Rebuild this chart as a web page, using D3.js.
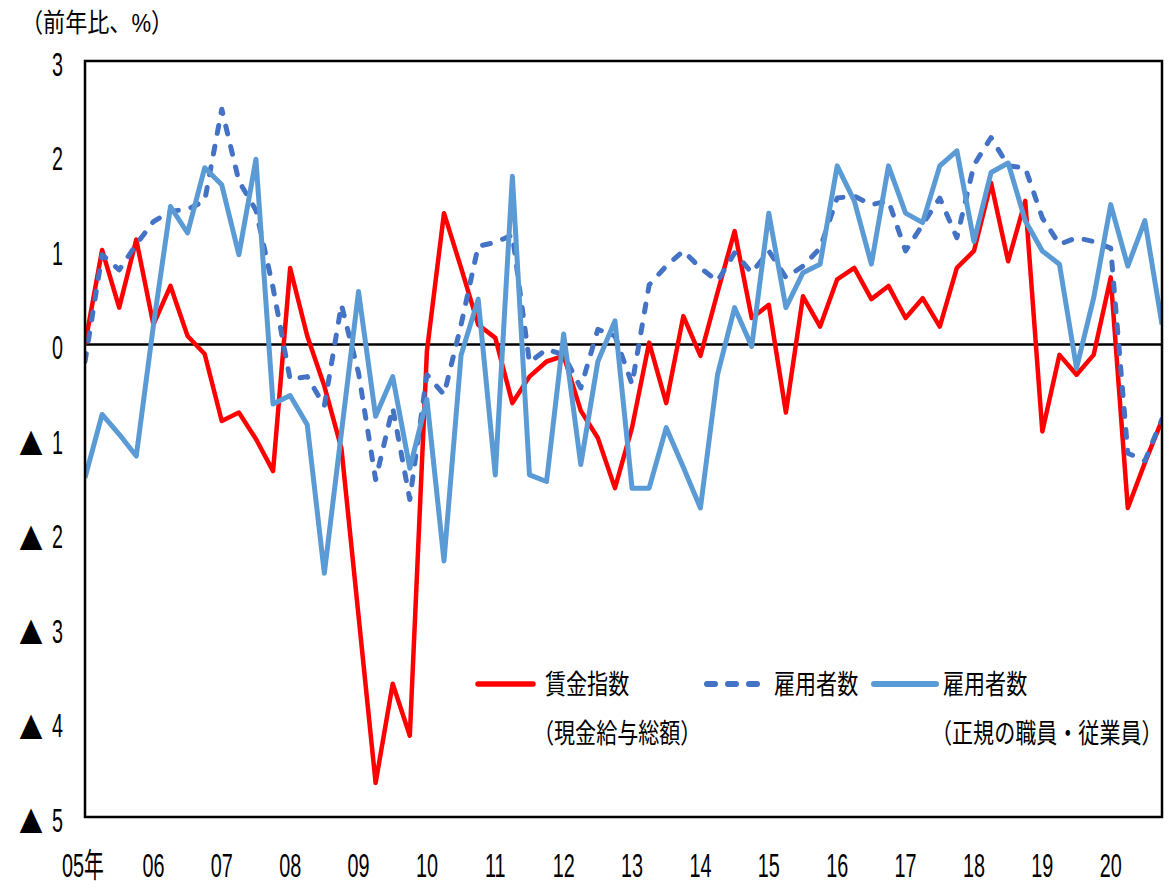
<!DOCTYPE html>
<html>
<head>
<meta charset="utf-8">
<script src="https://cdn.jsdelivr.net/npm/d3@7"></script>
<style>
  body { margin: 0; background: #fff; }
  text { font-family: "Liberation Sans", "Noto Sans CJK JP", sans-serif; fill: #000; }
</style>
</head>
<body>
<script>
// quarterly data, 2005Q1 - 2020Q4 (前年比, %)
const yearLabels = ["05年", "06", "07", "08", "09", "10", "11", "12", "13", "14", "15", "16", "17", "18", "19", "20"];
const yTicks = [3, 2, 1, 0, -1, -2, -3, -4, -5];

// 賃金指数（現金給与総額）
const wage = [
  0, 1.0, 0.39, 1.11, 0.21, 0.62, 0.09, -0.1,
  -0.81, -0.72, -1.0, -1.34, 0.81, 0.09, -0.44, -1.1,
  -2.87, -4.64, -3.59, -4.14, -0.07, 1.39, 0.81, 0.21,
  0.07, -0.62, -0.34, -0.18, -0.12, -0.7, -0.99, -1.52,
  -0.88, 0.02, -0.62, 0.3, -0.12, 0.55, 1.2, 0.28,
  0.42, -0.72, 0.51, 0.19, 0.69, 0.81, 0.48, 0.62,
  0.28, 0.49, 0.19, 0.81, 0.99, 1.71, 0.88, 1.52,
  -0.92, -0.11, -0.32, -0.11, 0.71, -1.73, -1.25, -0.8
];
// 雇用者数
const employees = [
  -0.18, 0.95, 0.79, 1.06, 1.3, 1.41, 1.43, 1.52,
  2.49, 1.73, 1.42, 0.6, -0.37, -0.34, -0.65, 0.42,
  -0.3, -1.43, -0.67, -1.64, -0.32, -0.53, 0.21, 1.04,
  1.08, 1.16, -0.19, -0.05, -0.11, -0.46, 0.16, 0.09,
  -0.42, 0.63, 0.83, 0.99, 0.81, 0.67, 0.97, 0.76,
  0.99, 0.71, 0.83, 1.02, 1.55, 1.57, 1.48, 1.52,
  0.99, 1.27, 1.55, 1.13, 1.9, 2.19, 1.89, 1.87,
  1.34, 1.06, 1.13, 1.09, 1.02, -1.15, -1.23, -0.79
];
// 雇用者数（正規の職員・従業員）
const regular = [
  -1.41, -0.74, -0.95, -1.18, 0.2, 1.46, 1.18, 1.87,
  1.69, 0.95, 1.96, -0.63, -0.54, -0.85, -2.42, -0.93,
  0.56, -0.76, -0.34, -1.31, -0.58, -2.29, -0.11, 0.48,
  -1.38, 1.78, -1.38, -1.45, 0.11, -1.27, -0.18, 0.25,
  -1.52, -1.52, -0.88, -1.3, -1.73, -0.32, 0.39, -0.02,
  1.39, 0.39, 0.76, 0.85, 1.89, 1.52, 0.85, 1.89,
  1.39, 1.29, 1.89, 2.05, 1.09, 1.82, 1.92, 1.31,
  0.99, 0.85, -0.25, 0.49, 1.48, 0.83, 1.31, 0.21
];

const series = [
  { name: ["賃金指数", "（現金給与総額）"], values: wage, color: "#ff0000", width: 4.5, dash: null },
  { name: ["雇用者数"], values: employees, color: "#4472c4", width: 5, dash: "8 13" },
  { name: ["雇用者数", "（正規の職員・従業員）"], values: regular, color: "#5b9bd5", width: 5, dash: null }
];

const width = 1173, height = 889;
const plot = { left: 85, right: 1162, top: 61, bottom: 817 };

const svg = d3.select("body").append("svg")
  .attr("width", width)
  .attr("height", height);

svg.append("rect").attr("width", width).attr("height", height).attr("fill", "#fff");

const x = d3.scaleLinear()
  .domain([0, wage.length - 1])
  .range([plot.left, plot.right]);
const y = d3.scaleLinear()
  .domain([-5, 3])
  .range([plot.bottom, plot.top]);

// condensed text helper
function label(g, px, py, txt, size, sx, anchor) {
  return g.append("text")
    .attr("transform", `translate(${px},${py}) scale(${sx},1)`)
    .attr("text-anchor", anchor || "start")
    .attr("dominant-baseline", "central")
    .style("font-size", size + "px")
    .text(txt);
}

// y tick labels (negative values written with ▲)
const yAxis = svg.append("g");
yTicks.forEach(t => {
  label(yAxis, 63, y(t) + 3, String(Math.abs(t)), 34, 0.58, "end");
  if (t < 0) {
    label(yAxis, 31, y(t) + 3, "▲", 30, 0.8, "middle")
      .style("font-family", "'Noto Sans CJK JP', sans-serif");
  }
});

// x labels, one per year (Q1)
const xAxis = svg.append("g");
yearLabels.forEach((yl, i) => {
  label(xAxis, x(i * 4) - (i === 0 ? 2 : 0), 865, yl, 33, 0.6, "middle");
});

// title
label(svg, 21, 23, "（前年比、%）", 26, 0.85, "start");

// zero line
svg.append("line")
  .attr("x1", plot.left).attr("x2", plot.right)
  .attr("y1", y(0)).attr("y2", y(0))
  .attr("stroke", "#000").attr("stroke-width", 2.5);

// lines
const line = d3.line()
  .x((d, i) => x(i))
  .y(d => y(d));

svg.append("clipPath").attr("id", "clip")
  .append("rect")
  .attr("x", plot.left).attr("y", plot.top)
  .attr("width", plot.right - plot.left).attr("height", plot.bottom - plot.top);

svg.append("g")
  .attr("clip-path", "url(#clip)")
  .selectAll("path")
  .data(series)
  .join("path")
  .attr("d", d => line(d.values))
  .attr("fill", "none")
  .attr("stroke", d => d.color)
  .attr("stroke-width", d => d.width)
  .attr("stroke-linejoin", "round")
  .attr("stroke-linecap", d => d.dash ? "round" : "butt")
  .attr("stroke-dasharray", d => d.dash);

// frame
svg.append("rect")
  .attr("x", plot.left).attr("y", plot.top)
  .attr("width", plot.right - plot.left).attr("height", plot.bottom - plot.top)
  .attr("fill", "none")
  .attr("stroke", "#000")
  .attr("stroke-width", 2.5);

// legend
const legendPos = [
  { x1: 478, x2: 533, tx: 545 },
  { x1: 707, x2: 760, tx: 774 },
  { x1: 874, x2: 936, tx: 943 }
];
const legend = svg.append("g");
series.forEach((s, i) => {
  const p = legendPos[i];
  legend.append("line")
    .attr("x1", p.x1).attr("x2", p.x2)
    .attr("y1", 684).attr("y2", 684)
    .attr("stroke", s.color)
    .attr("stroke-width", s.width + 1)
    .attr("stroke-linecap", "round")
    .attr("stroke-dasharray", s.dash);
  label(legend, p.tx, 685, s.name[0], 27, 0.78, "start");
  if (s.name[1]) label(legend, p.tx - 12, 734, s.name[1], 27, 0.78, "start");
});
</script>
</body>
</html>
